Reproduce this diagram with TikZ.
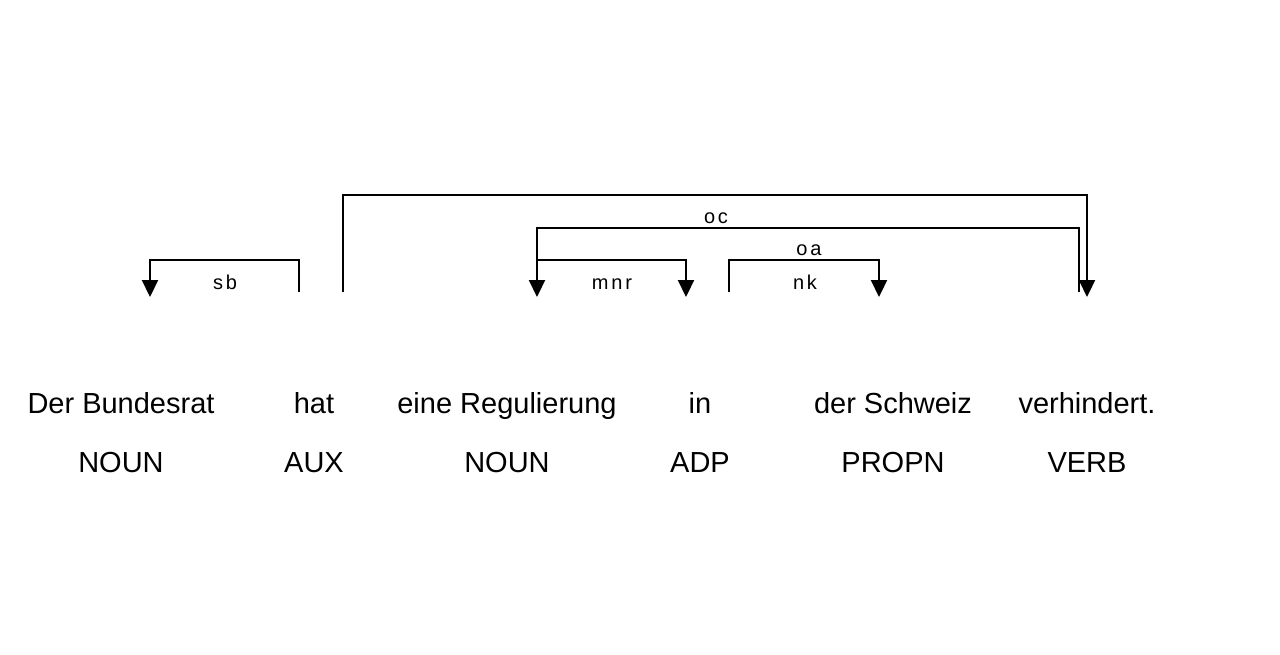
\documentclass[tikz,border=0pt]{standalone}
\usepackage{fontspec}
\setmainfont{Liberation Sans}
\newfontfamily\labfont[LetterSpace=14]{Liberation Sans}
\usetikzlibrary{arrows.meta}
\begin{document}
\begin{tikzpicture}[x=1pt,y=-1pt,
  word/.style={anchor=base,inner sep=0pt,font=\fontsize{29}{31}\selectfont},
  tag/.style={word},
  deplabel/.style={anchor=base,inner sep=0pt,font=\labfont\fontsize{20}{22}\selectfont},
  arc/.style={line width=2.2pt},
  arcarrow/.style={arc,-{Triangle[length=17pt,width=16pt]}}]
\useasboundingbox (0,0) rectangle (1280,654);
% words
\node[word] (w1) at (121,413) {Der Bundesrat};
\node[word] (w2) at (314,413) {hat};
\node[word] (w3) at (507,413) {eine Regulierung};
\node[word] (w4) at (700,413) {in};
\node[word] (w5) at (893,413) {der Schweiz};
\node[word] (w6) at (1087,413) {verhindert.};
% tags
\node[tag] (t1) at (121,472) {NOUN};
\node[tag] (t2) at (314,472) {AUX};
\node[tag] (t3) at (507,472) {NOUN};
\node[tag] (t4) at (700,472) {ADP};
\node[tag] (t5) at (893,472) {PROPN};
\node[tag] (t6) at (1087,472) {VERB};
% arc endpoints
\coordinate (sbS) at (299,292);  \coordinate (sbT) at (150,297);
\coordinate (ocS) at (343,292);  \coordinate (ocT) at (1087,297);
\coordinate (oaS) at (1079,292); \coordinate (oaT) at (537,297);
\coordinate (mnrS) at (537,292); \coordinate (mnrT) at (686,297);
\coordinate (nkS) at (729,292);  \coordinate (nkT) at (879,297);
% arcs
\draw[arcarrow] (sbS) -- ++(0,-32) -| (sbT);
\draw[arcarrow] (ocS) -- ++(0,-97) -| (ocT);
\draw[arcarrow] (oaS) -- ++(0,-64) -| (oaT);
\draw[arcarrow] (mnrS) -- ++(0,-32) -| (mnrT);
\draw[arcarrow] (nkS) -- ++(0,-32) -| (nkT);
% labels
\node[deplabel] (lsb) at (225,289) {sb};
\node[deplabel] (loc) at (716,223) {oc};
\node[deplabel] (loa) at (809,255) {oa};
\node[deplabel] (lmnr) at (612,289) {mnr};
\node[deplabel] (lnk) at (805,289) {nk};
\end{tikzpicture}
\end{document}
